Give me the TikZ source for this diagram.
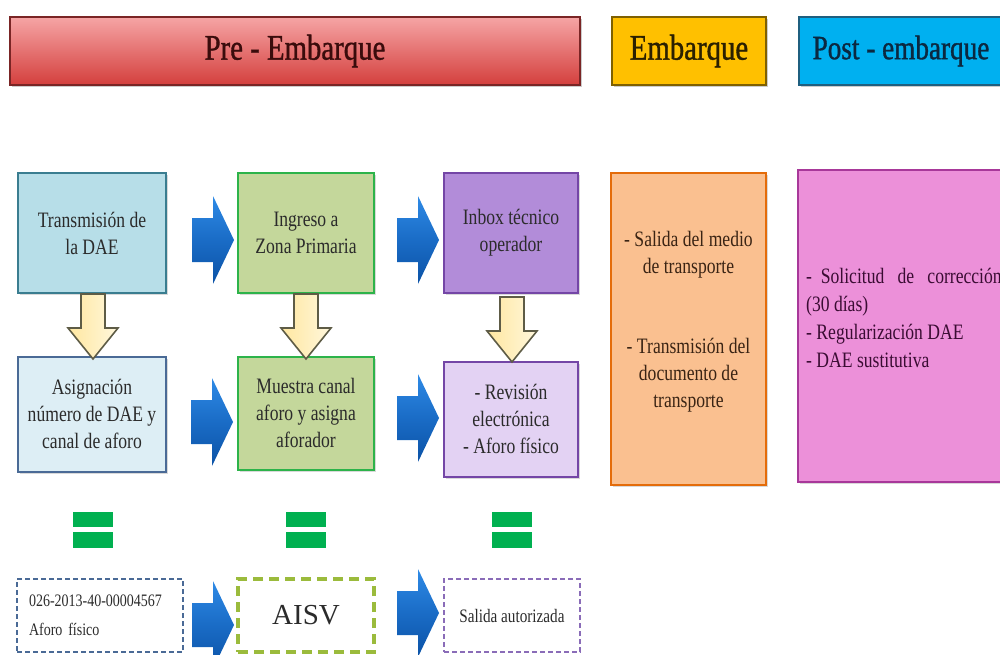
\documentclass[tikz,border=0pt]{standalone}
\usepackage{fontspec}
\setmainfont{Liberation Serif}
\newfontfamily\cond[FakeStretch=0.8]{Liberation Serif}
\newfontfamily\condb[FakeStretch=0.8,FakeBold=1]{Liberation Serif}
\usetikzlibrary{calc,shadows}
\definecolor{preTop}{HTML}{F6A5A5}
\definecolor{preBot}{HTML}{D43F3D}
\definecolor{preLine}{HTML}{7A2525}
\definecolor{preText}{HTML}{3A0C0C}
\definecolor{embFill}{HTML}{FFC000}
\definecolor{embLine}{HTML}{7F6000}
\definecolor{embText}{HTML}{2B2000}
\definecolor{postFill}{HTML}{00B0F0}
\definecolor{postLine}{HTML}{1F5F7F}
\definecolor{postText}{HTML}{0B2840}
\definecolor{aFill}{HTML}{B7DEE8}
\definecolor{aLine}{HTML}{3A7D90}
\definecolor{aaFill}{HTML}{DDEEF5}
\definecolor{aaLine}{HTML}{4A6A96}
\definecolor{bFill}{HTML}{C4D79B}
\definecolor{bLine}{HTML}{2DB34A}
\definecolor{bDash}{HTML}{9BBB3C}
\definecolor{cFill}{HTML}{B28CD9}
\definecolor{cLine}{HTML}{7446A6}
\definecolor{ccFill}{HTML}{E3D2F3}
\definecolor{cDash}{HTML}{8A6CB8}
\definecolor{oFill}{HTML}{FAC090}
\definecolor{oLine}{HTML}{E46C0A}
\definecolor{oText}{HTML}{3A2414}
\definecolor{pFill}{HTML}{EC90D9}
\definecolor{pLine}{HTML}{A8389A}
\definecolor{pText}{HTML}{3A0C33}
\definecolor{arBlue}{HTML}{1A6CC6}
\definecolor{arBlueL}{HTML}{2E8AE6}
\definecolor{arBlueD}{HTML}{0B52A6}
\definecolor{yel}{HTML}{FFE7A0}
\definecolor{yelL}{HTML}{FFF7DC}
\definecolor{yelLine}{HTML}{5E5C46}
\definecolor{eqGreen}{HTML}{00B050}
\definecolor{txt}{HTML}{2B2B2B}
\tikzset{
  hdr/.style={draw, line width=1.8pt, font=\condb\fontsize{36}{40}\selectfont, inner sep=0pt,
    drop shadow={shadow xshift=1.5pt, shadow yshift=-2.5pt, opacity=0.4}},
  box/.style={draw, line width=2pt, inner sep=4pt, align=center, text=txt,
    font=\cond\fontsize{22}{27}\selectfont,
    drop shadow={shadow xshift=2pt, shadow yshift=-2pt, opacity=0.3}},
  dbox/.style={draw, line width=2pt, dash pattern=on 5pt off 3pt, inner sep=0pt, text=txt},
  rarrow/.pic={\shade[top color=arBlueL, bottom color=arBlueD, middle color=arBlue]
    (-21,-22)--(0,-22)--(0,-44)--(21,0)--(0,44)--(0,22)--(-21,22)--cycle;},
  darrow/.pic={\shade[draw=yelLine, line width=1.6pt, left color=yel, right color=yelL]
    (-12,0)--(12,0)--(12,34)--(25,34)--(0,65)--(-25,34)--(-12,34)--cycle;},
  eqsign/.pic={\fill[eqGreen] (-20,-18) rectangle (20,-3);
    \fill[eqGreen] (-20,2) rectangle (20,18);},
}
\begin{document}
\begin{tikzpicture}[x=1pt,y=-1pt]
\useasboundingbox (0,0) rectangle (1000,655);
% headers
\node[hdr, top color=preTop, bottom color=preBot, draw=preLine, text=preText,
  minimum width=570pt, minimum height=68pt] (pre) at (295,51) {Pre - Embarque};
\node[hdr, fill=embFill, draw=embLine, text=embText,
  minimum width=154pt, minimum height=68pt] (emb) at (689,51) {Embarque};
\node[hdr, fill=postFill, draw=postLine, minimum width=214pt, minimum height=68pt] (post) at (906,51) {};
\node[text=postText, font=\condb\fontsize{34}{38}\selectfont, inner sep=0pt] (postt) at (901,51) {Post - embarque};
% row 1
\node[box, fill=aFill, draw=aLine, minimum width=148pt, minimum height=120pt] (a1) at (92,233) {Transmisión de\\la DAE};
\node[box, fill=bFill, draw=bLine, minimum width=136pt, minimum height=120pt] (b1) at (306,233) {Ingreso a\\Zona Primaria};
\node[box, fill=cFill, draw=cLine, minimum width=134pt, minimum height=120pt] (c1) at (511,233) {Inbox técnico\\operador};
% row 2
\node[box, fill=aaFill, draw=aaLine, minimum width=148pt, minimum height=115pt] (a2) at (92,414) {Asignación\\número de DAE y\\canal de aforo};
\node[box, fill=bFill, draw=bLine, minimum width=136pt, minimum height=113pt] (b2) at (306,413) {Muestra canal\\aforo y asigna\\aforador};
\node[box, fill=ccFill, draw=cLine, minimum width=134pt, minimum height=115pt] (c2) at (511,419) {- Revisión\\electrónica\\- Aforo físico};
% embarque / post-embarque boxes
\node[box, fill=oFill, draw=oLine, minimum width=155pt, minimum height=312pt] (e1) at (688.5,329) {};
\node[align=center, text=oText, font=\cond\fontsize{22}{27}\selectfont] (e1t) at (688.5,322)
  {- Salida del medio\\de transporte\\[53pt]- Transmisión del\\documento de\\transporte};
\node[box, fill=pFill, draw=pLine, minimum width=214pt, minimum height=312pt] (p1) at (905,326) {};
\node[anchor=north west, align=left, inner sep=0pt, text=pText, font=\cond\fontsize{22}{28}\selectfont] (p1t) at (806,268)
  {- \ Solicitud \ \ de \ \ corrección\\(30 días)\\- Regularización DAE\\- DAE sustitutiva};
% row 3
\node[dbox, draw=aaLine, minimum width=166pt, minimum height=73pt, text width=142pt, align=left,
  font=\cond\fontsize{17.5}{29}\selectfont] (a3) at (100,615.5) {026-2013-40-00004567\\Aforo físico};
\node[dbox, draw=bDash, line width=4pt, dash pattern=on 10pt off 6pt, minimum width=136pt, minimum height=73pt,
  font=\fontsize{29}{32}\selectfont] (b3) at (306,615.5) {AISV};
\node[dbox, draw=cDash, minimum width=136pt, minimum height=73pt,
  font=\cond\fontsize{19}{22}\selectfont] (c3) at (512,615.5) {Salida autorizada};
% blue arrows
\pic at (213,240) {rarrow};
\pic at (418,240) {rarrow};
\pic at (212,422) {rarrow};
\pic at (418,418) {rarrow};
\pic at (213,625) {rarrow};
\pic at (418,613) {rarrow};
% yellow arrows
\pic at ($(a1.south)+(1,0)$) {darrow};
\pic at (b1.south) {darrow};
\pic at ($(c1.south)+(1,3)$) {darrow};
% equal signs
\pic at (93,530) {eqsign};
\pic at (306,530) {eqsign};
\pic at (512,530) {eqsign};
\end{tikzpicture}
\end{document}
